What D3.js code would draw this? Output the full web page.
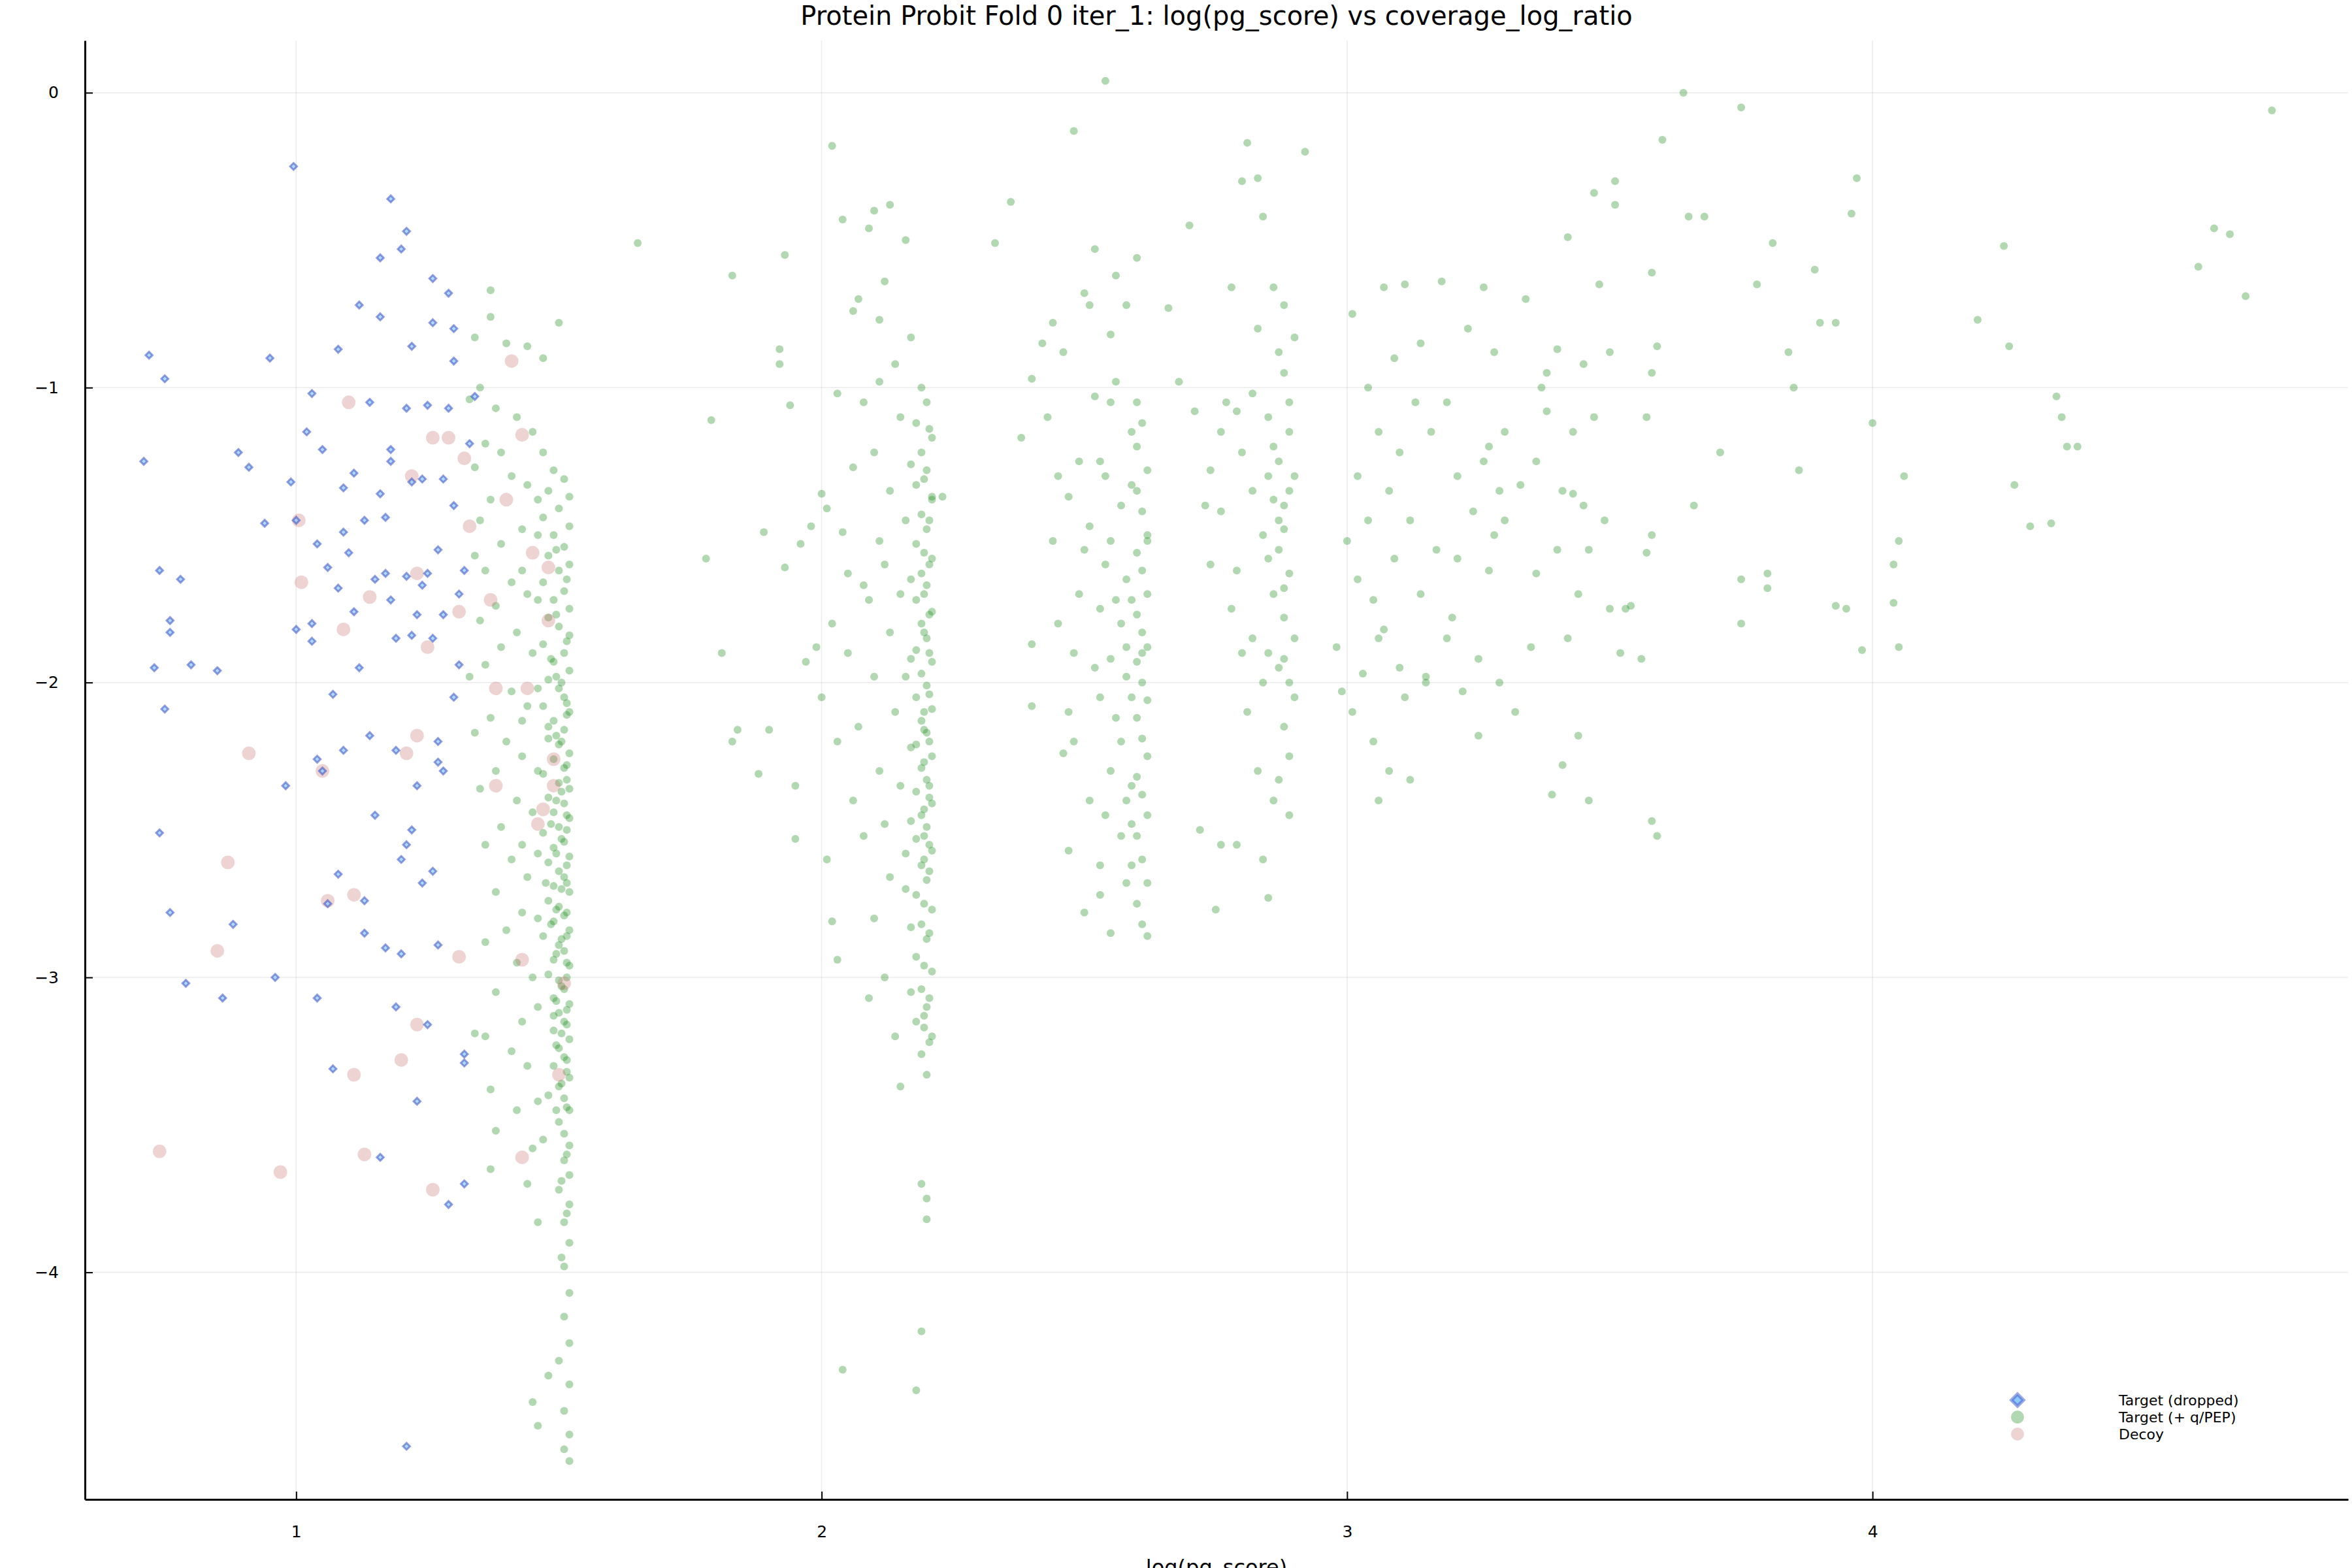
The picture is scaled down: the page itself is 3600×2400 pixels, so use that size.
<!DOCTYPE html>
<html>
<head>
<meta charset="utf-8">
<script src="https://cdn.jsdelivr.net/npm/d3@7"></script>
<style>
  body { margin: 0; background: #fff; }
  text { font-family: "DejaVu Sans", sans-serif; }
</style>
</head>
<body>
<script>
// Target (dropped)
var dropped = [[0.72,-0.89],[0.75,-0.97],[0.71,-1.25],[0.74,-1.62],[0.76,-1.79],[0.76,-1.83],[0.78,-1.65],[0.73,-1.95],[0.75,-2.09],[0.74,-2.51],[0.76,-2.78],[0.79,-3.02],[0.80,-1.94],[0.85,-1.96],[0.86,-3.07],[0.88,-2.82],[0.89,-1.22],[0.91,-1.27],[0.94,-1.46],[0.95,-0.90],[0.96,-3.00],[0.98,-2.35],[0.99,-1.32],[1.00,-1.82],[0.995,-0.25],[1.00,-1.45],[1.02,-1.15],[1.03,-1.02],[1.03,-1.80],[1.03,-1.86],[1.04,-1.53],[1.04,-3.07],[1.04,-2.26],[1.05,-2.30],[1.05,-1.21],[1.06,-1.61],[1.06,-2.75],[1.07,-3.31],[1.07,-2.04],[1.08,-1.68],[1.08,-2.65],[1.08,-0.87],[1.09,-1.34],[1.09,-1.49],[1.09,-2.23],[1.10,-1.56],[1.11,-1.29],[1.11,-1.76],[1.12,-0.72],[1.12,-1.95],[1.13,-2.85],[1.13,-1.45],[1.13,-2.74],[1.14,-1.05],[1.14,-2.18],[1.15,-2.45],[1.15,-1.65],[1.16,-1.36],[1.16,-0.76],[1.16,-3.61],[1.16,-0.56],[1.17,-1.44],[1.17,-2.90],[1.18,-1.25],[1.18,-1.72],[1.18,-0.36],[1.18,-1.21],[1.19,-2.23],[1.19,-3.10],[1.19,-1.85],[1.20,-2.92],[1.20,-2.60],[1.20,-0.53],[1.21,-1.07],[1.21,-1.64],[1.21,-2.55],[1.21,-0.47],[1.21,-4.59],[1.22,-2.50],[1.22,-0.86],[1.22,-1.32],[1.23,-3.42],[1.23,-1.77],[1.23,-2.35],[1.24,-1.67],[1.24,-1.31],[1.24,-2.68],[1.25,-1.63],[1.25,-3.16],[1.25,-1.06],[1.26,-0.78],[1.26,-0.63],[1.26,-2.64],[1.27,-2.89],[1.27,-1.55],[1.27,-2.20],[1.27,-2.27],[1.28,-1.77],[1.28,-2.30],[1.28,-1.31],[1.29,-3.77],[1.29,-0.68],[1.29,-1.07],[1.30,-0.91],[1.30,-2.05],[1.30,-1.40],[1.31,-1.94],[1.31,-1.70],[1.32,-3.26],[1.32,-3.29],[1.32,-3.70],[1.32,-1.62],[1.33,-1.19],[1.34,-1.03],[1.30,-0.80],[1.22,-1.84],[1.17,-1.63],[1.26,-1.85]];

// Target (+ q/PEP)
var target = [
[1.34,-0.83],[1.37,-0.67],[1.37,-0.76],[1.40,-0.85],[1.44,-0.86],[1.47,-0.90],[1.50,-0.78],[1.35,-1.00],[1.33,-1.04],[1.38,-1.07],[1.42,-1.10],[1.45,-1.15],[1.36,-1.19],[1.39,-1.22],[1.34,-1.27],[1.41,-1.30],[1.44,-1.33],[1.37,-1.38],[1.35,-1.45],[1.43,-1.48],[1.39,-1.53],[1.46,-1.50],[1.34,-1.57],[1.36,-1.62],[1.41,-1.66],[1.44,-1.70],[1.38,-1.74],[1.35,-1.79],[1.42,-1.83],[1.39,-1.88],[1.45,-1.90],[1.36,-1.94],[1.33,-1.98],[1.41,-2.03],[1.44,-2.08],[1.37,-2.12],[1.34,-2.17],[1.40,-2.20],[1.43,-2.25],[1.38,-2.30],[1.35,-2.36],[1.42,-2.40],[1.45,-2.44],[1.39,-2.49],[1.36,-2.55],[1.41,-2.60],[1.44,-2.66],[1.38,-2.71],[1.43,-2.78],[1.40,-2.84],[1.36,-2.88],[1.42,-2.95],[1.45,-3.00],[1.38,-3.05],[1.34,-3.19],[1.36,-3.20],[1.41,-3.25],[1.44,-3.30],[1.37,-3.38],[1.42,-3.45],[1.38,-3.52],[1.45,-3.58],[1.37,-3.65],[1.44,-3.70],[1.46,-3.83],[1.45,-4.44],[1.46,-4.52],[1.48,-4.35],
[1.49,-1.28],[1.51,-1.31],[1.48,-1.35],[1.52,-1.37],[1.50,-1.41],[1.47,-1.44],[1.52,-1.47],[1.49,-1.50],[1.51,-1.54],[1.48,-1.57],[1.52,-1.60],[1.50,-1.62],[1.47,-1.66],[1.51,-1.69],[1.49,-1.72],[1.52,-1.75],[1.48,-1.78],[1.50,-1.81],[1.52,-1.84],[1.47,-1.87],[1.51,-1.90],[1.49,-1.93],[1.52,-1.96],[1.48,-1.99],[1.50,-2.02],[1.51,-2.05],[1.47,-2.08],[1.52,-2.10],[1.49,-2.13],[1.51,-2.16],[1.48,-2.19],[1.50,-2.21],[1.52,-2.24],[1.49,-2.26],[1.51,-2.29],[1.47,-2.31],[1.50,-2.34],[1.52,-2.36],[1.48,-2.39],[1.51,-2.41],[1.49,-2.44],[1.52,-2.46],[1.50,-2.49],[1.47,-2.51],[1.51,-2.54],[1.49,-2.56],[1.52,-2.59],[1.48,-2.61],[1.50,-2.64],[1.51,-2.66],[1.49,-2.69],[1.52,-2.71],[1.48,-2.74],[1.50,-2.76],[1.51,-2.79],[1.49,-2.81],[1.52,-2.84],[1.47,-2.86],[1.50,-2.89],[1.51,-2.91],[1.49,-2.94],[1.52,-2.96],[1.48,-2.99],[1.50,-3.01],[1.51,-3.04],[1.49,-3.07],[1.52,-3.09],[1.50,-3.12],[1.51,-3.15],[1.49,-3.18],[1.52,-3.21],[1.50,-3.24],[1.51,-3.27],[1.49,-3.30],[1.52,-3.34],[1.50,-3.37],[1.51,-3.41],[1.52,-3.45],[1.50,-3.49],[1.51,-3.53],[1.52,-3.57],[1.51,-3.62],[1.52,-3.67],[1.50,-3.72],[1.52,-3.77],[1.51,-3.83],[1.52,-3.90],[1.51,-3.98],[1.52,-4.07],[1.51,-4.15],[1.52,-4.24],[1.50,-4.30],[1.52,-4.38],[1.51,-4.47],[1.52,-4.55],[1.51,-4.60],[1.52,-4.64],
[1.505,-2.00],[1.515,-2.11],[1.505,-2.20],[1.515,-2.28],[1.505,-2.37],[1.515,-2.45],[1.505,-2.53],[1.515,-2.62],[1.505,-2.70],[1.515,-2.78],[1.505,-2.87],[1.515,-2.95],[1.505,-3.03],[1.515,-3.11],[1.505,-3.19],[1.515,-3.28],[1.505,-3.36],[1.515,-3.44],[1.48,-2.15],[1.485,-2.48],[1.485,-2.82],[1.49,-3.13],[1.485,-1.92],[1.475,-2.68],[1.48,-3.40],
[1.495,-1.55],[1.515,-1.65],[1.495,-1.77],[1.515,-1.86],[1.495,-1.98],[1.515,-2.07],[1.495,-2.18],[1.515,-2.33],[1.495,-2.40],[1.515,-2.50],[1.495,-2.58],[1.515,-2.68],[1.495,-2.77],[1.515,-2.86],[1.495,-2.92],[1.515,-3.00],[1.495,-3.08],[1.515,-3.16],[1.495,-3.23],[1.515,-3.32],[1.495,-3.45],[1.515,-3.60],[1.505,-3.69],[1.515,-3.80],[1.505,-3.95],
[1.46,-1.38],[1.46,-1.72],[1.46,-2.02],[1.46,-2.30],[1.46,-2.58],[1.46,-2.80],[1.46,-3.10],[1.46,-3.42],[1.47,-1.22],[1.47,-3.55],[1.43,-1.62],[1.43,-2.13],[1.43,-2.55],[1.43,-3.15],
[1.65,-0.51],[1.79,-1.11],[1.78,-1.58],[1.81,-1.90],[1.83,-2.20],[1.84,-2.16],[1.83,-0.62],[1.88,-2.31],[1.89,-1.49],[1.90,-2.16],[1.92,-0.87],[1.92,-0.92],[1.93,-0.55],[1.93,-1.61],[1.94,-1.06],[1.95,-2.35],[1.95,-2.53],[1.96,-1.53],[1.97,-1.93],[1.98,-1.47],[1.99,-1.88],[2.00,-2.05],[2.00,-1.36],[2.01,-1.41],[2.01,-2.60],[2.02,-1.80],[2.02,-2.81],[2.03,-1.02],[2.03,-2.20],[2.03,-2.94],[2.04,-4.33],[2.04,-1.49],[2.05,-1.63],[2.05,-1.90],[2.06,-0.74],[2.06,-2.40],[2.06,-1.27],[2.07,-0.70],[2.07,-2.15],[2.08,-1.67],[2.08,-1.05],[2.08,-2.52],[2.09,-0.46],[2.09,-1.72],[2.09,-3.07],[2.10,-0.40],[2.10,-1.22],[2.10,-1.98],[2.10,-2.80],[2.11,-0.77],[2.11,-1.52],[2.11,-2.30],[2.11,-0.98],[2.12,-1.60],[2.12,-2.48],[2.12,-3.00],[2.12,-0.64],[2.13,-1.35],[2.13,-1.83],[2.13,-2.66],[2.13,-0.38],[2.14,-0.92],[2.14,-2.10],[2.14,-3.20],[2.15,-1.10],[2.15,-1.70],[2.15,-2.35],[2.15,-3.37],[2.16,-1.45],[2.16,-2.58],[2.16,-0.50],[2.17,-1.92],[2.17,-2.83],[2.17,-0.83],[2.02,-0.18],[2.04,-0.43],[2.21,-1.37],[2.23,-1.37],
[2.19,-1.00],[2.20,-1.05],[2.18,-1.12],[2.21,-1.17],[2.19,-1.22],[2.20,-1.28],[2.18,-1.33],[2.21,-1.38],[2.19,-1.43],[2.20,-1.48],[2.18,-1.53],[2.21,-1.58],[2.19,-1.63],[2.20,-1.67],[2.18,-1.72],[2.21,-1.76],[2.19,-1.80],[2.20,-1.85],[2.18,-1.89],[2.21,-1.93],[2.19,-1.97],[2.20,-2.01],[2.18,-2.05],[2.21,-2.09],[2.19,-2.13],[2.20,-2.17],[2.18,-2.21],[2.21,-2.25],[2.19,-2.29],[2.20,-2.33],[2.18,-2.37],[2.21,-2.41],[2.19,-2.45],[2.20,-2.49],[2.18,-2.53],[2.21,-2.57],[2.19,-2.62],[2.20,-2.67],[2.18,-2.72],[2.21,-2.77],[2.19,-2.82],[2.20,-2.87],[2.18,-2.93],[2.21,-2.98],[2.19,-3.04],[2.20,-3.10],[2.18,-3.15],[2.21,-3.20],[2.19,-3.26],[2.20,-3.33],[2.19,-3.70],[2.20,-3.75],[2.20,-3.82],[2.19,-4.20],[2.18,-4.40],[2.195,-1.70],[2.205,-1.90],[2.195,-2.10],[2.205,-2.20],[2.195,-2.27],[2.205,-2.35],[2.195,-2.52],[2.205,-2.55],[2.195,-2.60],[2.205,-1.60],[2.195,-3.17],
[2.205,-1.14],[2.195,-1.31],[2.205,-1.45],[2.195,-1.56],[2.205,-1.77],[2.195,-1.83],[2.205,-2.04],[2.195,-2.16],[2.205,-2.39],[2.195,-2.43],[2.205,-2.64],[2.195,-2.75],[2.205,-2.85],[2.195,-2.96],[2.205,-3.07],[2.195,-3.13],[2.205,-3.22],[2.17,-1.26],[2.17,-1.65],[2.17,-2.22],[2.17,-2.47],[2.17,-3.05],[2.16,-1.98],[2.16,-2.70],
[2.33,-0.51],[2.36,-0.37],[2.38,-1.17],[2.40,-1.87],[2.40,-2.08],[2.42,-0.85],[2.44,-0.78],[2.44,-1.52],[2.45,-1.80],[2.46,-0.88],[2.46,-2.24],[2.47,-1.37],[2.47,-2.57],[2.48,-0.13],[2.48,-2.20],[2.49,-1.25],[2.49,-1.70],[2.50,-0.68],[2.50,-2.78],[2.51,-0.72],[2.51,-1.47],[2.51,-2.40],[2.52,-1.03],[2.52,-0.53],[2.52,-1.95],[2.53,-2.05],[2.53,-2.62],[2.54,0.04],[2.54,-1.30],[2.54,-1.60],[2.55,-0.82],[2.55,-1.05],[2.55,-2.30],[2.55,-2.85],[2.56,-1.72],[2.56,-2.12],[2.56,-0.62],[2.57,-1.40],[2.57,-2.52],[2.58,-0.72],[2.58,-1.88],[2.58,-2.68],[2.59,-1.15],
[2.60,-1.05],[2.61,-1.12],[2.60,-1.20],[2.62,-1.28],[2.60,-1.35],[2.61,-1.42],[2.62,-1.50],[2.60,-1.56],[2.61,-1.62],[2.62,-1.70],[2.60,-1.77],[2.61,-1.83],[2.62,-1.88],[2.60,-1.93],[2.61,-2.00],[2.62,-2.06],[2.60,-2.12],[2.61,-2.19],[2.62,-2.25],[2.60,-2.32],[2.61,-2.38],[2.62,-2.45],[2.60,-2.52],[2.61,-2.60],[2.62,-2.68],[2.60,-2.75],[2.61,-2.82],[2.62,-2.86],[2.60,-0.56],[2.61,-1.90],[2.62,-1.52],
[2.40,-0.97],[2.43,-1.10],[2.45,-1.30],[2.48,-1.90],[2.53,-1.25],[2.56,-0.98],[2.57,-2.20],[2.53,-2.72],[2.50,-1.55],[2.47,-2.10],[2.59,-2.48],[2.58,-1.65],
[2.59,-1.33],[2.59,-1.72],[2.59,-2.05],[2.59,-2.35],[2.59,-2.62],[2.58,-1.98],[2.58,-2.40],[2.57,-1.80],[2.55,-1.52],[2.55,-1.92],[2.54,-2.45],[2.53,-1.75],
[2.66,-0.73],[2.68,-0.98],[2.70,-0.45],[2.71,-1.08],[2.72,-2.50],[2.73,-1.40],[2.74,-1.60],[2.75,-2.77],[2.76,-2.55],[2.76,-1.15],[2.77,-1.05],[2.78,-1.75],[2.78,-0.66],[2.79,-1.62],[2.79,-2.55],[2.80,-0.30],[2.80,-1.22],[2.81,-0.17],[2.81,-2.10],[2.82,-1.35],[2.82,-1.85],[2.83,-0.29],[2.83,-0.80],[2.83,-2.30],[2.84,-0.42],[2.84,-1.50],[2.84,-2.00],[2.85,-1.10],[2.85,-1.30],[2.85,-2.73],[2.86,-0.66],[2.86,-1.70],[2.86,-2.40],[2.87,-0.88],[2.87,-1.25],[2.87,-1.55],[2.87,-1.95],[2.88,-0.72],[2.88,-1.40],[2.88,-2.15],[2.89,-1.05],[2.89,-1.63],[2.89,-2.45],[2.90,-0.83],[2.90,-1.30],[2.90,-1.85],[2.90,-2.05],[2.92,-0.20],[2.84,-2.60],[2.86,-1.20],[2.88,-1.78],[2.89,-2.25],[2.85,-1.58],[2.82,-1.02],[2.80,-1.90],[2.87,-2.33],[2.76,-1.42],[2.74,-1.28],[2.79,-1.08],
[2.88,-1.48],[2.89,-1.35],[2.88,-1.92],[2.89,-2.00],[2.88,-1.68],[2.87,-1.45],[2.86,-1.38],[2.85,-1.90],[2.89,-1.15],[2.88,-0.95],
[2.98,-1.88],[2.99,-2.03],[3.00,-1.52],[3.01,-0.75],[3.01,-2.10],[3.02,-1.30],[3.02,-1.65],[3.03,-1.97],[3.04,-1.00],[3.04,-1.45],[3.05,-1.72],[3.05,-2.20],[3.06,-1.15],[3.06,-2.40],[3.07,-0.66],[3.07,-1.82],[3.08,-1.35],[3.08,-2.30],[3.09,-0.90],[3.09,-1.58],[3.10,-1.22],[3.10,-1.95],[3.11,-0.65],[3.11,-2.05],[3.12,-1.45],[3.12,-2.33],[3.13,-1.05],[3.14,-1.70],[3.15,-1.98],[3.16,-1.15],[3.17,-1.55],[3.18,-0.64],[3.19,-1.05],[3.20,-1.78],[3.21,-1.30],[3.22,-2.03],[3.23,-0.80],[3.24,-1.42],[3.25,-1.92],[3.26,-1.25],[3.26,-0.66],[3.27,-1.62],[3.28,-0.88],[3.28,-1.50],[3.29,-2.00],[3.30,-1.15],[3.25,-2.18],[3.21,-1.58],[3.15,-2.00],[3.14,-0.85],[3.06,-1.85],[3.19,-1.85],[3.29,-1.35],[3.27,-1.20],
[3.32,-2.10],[3.34,-0.70],[3.35,-1.88],[3.36,-1.25],[3.37,-1.00],[3.38,-0.95],[3.39,-2.38],[3.40,-1.55],[3.40,-0.87],[3.41,-1.35],[3.41,-2.28],[3.42,-0.49],[3.42,-1.85],[3.43,-1.15],[3.44,-1.70],[3.44,-2.18],[3.45,-1.40],[3.45,-0.92],[3.46,-1.55],[3.46,-2.40],[3.47,-0.34],[3.48,-0.65],[3.50,-0.88],[3.51,-0.30],[3.51,-0.38],[3.52,-1.90],[3.53,-1.75],[3.54,-1.74],[3.56,-1.92],[3.57,-1.10],[3.58,-0.95],[3.58,-0.61],[3.58,-1.50],[3.58,-2.47],[3.59,-2.52],[3.59,-0.86],[3.60,-0.16],[3.64,0.00],[3.65,-0.42],[3.66,-1.40],[3.68,-0.42],[3.71,-1.22],[3.75,-0.05],[3.75,-1.65],[3.75,-1.80],[3.78,-0.65],[3.80,-1.68],[3.80,-1.63],[3.81,-0.51],[3.84,-0.88],[3.85,-1.00],[3.86,-1.28],[3.89,-0.60],[3.90,-0.78],[3.93,-0.78],[3.93,-1.74],[3.95,-1.75],[3.96,-0.41],[3.97,-0.29],[3.98,-1.89],[4.00,-1.12],[4.04,-1.60],[4.04,-1.73],[4.05,-1.52],[4.05,-1.88],[4.06,-1.30],[4.20,-0.77],[4.25,-0.52],[4.26,-0.86],[4.27,-1.33],[4.30,-1.47],[4.34,-1.46],[4.35,-1.03],[4.36,-1.10],[4.37,-1.20],[4.39,-1.20],[4.62,-0.59],[4.65,-0.46],[4.68,-0.48],[4.71,-0.69],[4.76,-0.06],
[3.30,-1.45],[3.33,-1.33],[3.36,-1.63],[3.38,-1.08],[3.43,-1.36],[3.47,-1.10],[3.49,-1.45],[3.50,-1.75],[3.57,-1.56]
];

// Decoy
var decoy = [[0.74,-3.59],[0.85,-2.91],[0.87,-2.61],[0.91,-2.24],[0.97,-3.66],[1.005,-1.45],[1.01,-1.66],[1.05,-2.30],[1.06,-2.74],[1.09,-1.82],[1.10,-1.05],[1.11,-2.72],[1.11,-3.33],[1.13,-3.60],[1.14,-1.71],[1.20,-3.28],[1.21,-2.24],[1.22,-1.30],[1.23,-2.18],[1.23,-1.63],[1.23,-3.16],[1.25,-1.88],[1.26,-3.72],[1.26,-1.17],[1.29,-1.17],[1.31,-2.93],[1.31,-1.76],[1.32,-1.24],[1.33,-1.47],[1.37,-1.72],[1.38,-2.35],[1.38,-2.02],[1.40,-1.38],[1.41,-0.91],[1.43,-1.16],[1.43,-3.61],[1.43,-2.94],[1.44,-2.02],[1.45,-1.56],[1.46,-2.48],[1.47,-2.43],[1.48,-1.79],[1.48,-1.61],[1.49,-2.26],[1.49,-2.35],[1.50,-3.33],[1.51,-3.02]];

var xTicks = [1, 2, 3, 4];
var yTicks = [0, -1, -2, -3, -4];
var legendLabels = ["Target (dropped)", "Target (+ q/PEP)", "Decoy"];

var W = 3600, H = 2400;
var mLeft = 130, mRight = 3594, mTop = 62, mBottom = 2295;

var svg = d3.select("body").append("svg")
    .attr("width", W).attr("height", H);

var x = d3.scaleLinear().domain([0.598, 4.905]).range([mLeft, mRight]);
var y = d3.scaleLinear().domain([-4.77, 0.177]).range([mBottom, mTop]);

// grid
svg.append("g").selectAll("line").data(xTicks).enter().append("line")
    .attr("x1", d => x(d)).attr("x2", d => x(d))
    .attr("y1", mTop).attr("y2", mBottom)
    .attr("stroke", "#000").attr("stroke-opacity", 0.08).attr("stroke-width", 1.5);
svg.append("g").selectAll("line").data(yTicks).enter().append("line")
    .attr("x1", mLeft).attr("x2", mRight)
    .attr("y1", d => y(d)).attr("y2", d => y(d))
    .attr("stroke", "#000").attr("stroke-opacity", 0.08).attr("stroke-width", 1.5);

var fmt = d => d < 0 ? "\u2212" + Math.abs(d) : String(d);

var xAxis = svg.append("g").attr("transform", "translate(0," + mBottom + ")")
    .call(d3.axisBottom(x).tickValues(xTicks).tickFormat(fmt).tickSizeInner(-12).tickSizeOuter(0).tickPadding(40));
var yAxis = svg.append("g").attr("transform", "translate(" + mLeft + ",0)")
    .call(d3.axisLeft(y).tickValues(yTicks).tickFormat(fmt).tickSizeInner(-12).tickSizeOuter(0).tickPadding(40));
[xAxis, yAxis].forEach(function(a) {
    a.select(".domain").attr("stroke", "#000").attr("stroke-width", 3);
    a.selectAll(".tick line").attr("stroke", "#000").attr("stroke-width", 2);
    a.selectAll(".tick text").attr("font-size", 25).attr("font-family", "DejaVu Sans").attr("fill", "#000");
});

// points
svg.append("g").selectAll("circle").data(target).enter().append("circle")
    .attr("cx", d => x(d[0])).attr("cy", d => y(d[1])).attr("r", 6)
    .attr("fill", "#1f8f1f").attr("fill-opacity", 0.35);

svg.append("g").selectAll("circle").data(decoy).enter().append("circle")
    .attr("cx", d => x(d[0])).attr("cy", d => y(d[1])).attr("r", 10.5)
    .attr("fill", "#c86e6e").attr("fill-opacity", 0.3);

var diamond = d3.symbol().type(d3.symbolDiamond2).size(70);
svg.append("g").selectAll("path").data(dropped).enter().append("path")
    .attr("d", diamond)
    .attr("transform", d => "translate(" + x(d[0]) + "," + y(d[1]) + ")")
    .attr("fill", "#8ec8ff").attr("fill-opacity", 0.7)
    .attr("stroke", "#2a3fc0").attr("stroke-opacity", 0.5).attr("stroke-width", 3);

// title and label
svg.append("text").attr("x", (mLeft + mRight) / 2).attr("y", 38)
    .attr("text-anchor", "middle").attr("font-size", 40).text("Protein Probit Fold 0 iter_1: log(pg_score) vs coverage_log_ratio");
svg.append("text").attr("x", (mLeft + mRight) / 2).attr("y", 2410)
    .attr("text-anchor", "middle").attr("font-size", 32).text("log(pg_score)");

// legend
var lg = svg.append("g").attr("transform", "translate(3088,2143)");
var rows = lg.selectAll("g").data(legendLabels).enter().append("g")
    .attr("transform", (d, i) => "translate(0," + i * 26 + ")");
rows.append("text").attr("x", 155).attr("y", 8).attr("font-size", 22).text(d => d);
rows.filter((d, i) => i === 0).append("path")
    .attr("d", d3.symbol().type(d3.symbolDiamond2).size(220))
    .attr("fill", "#8ec8ff").attr("stroke", "#2a3fc0").attr("stroke-opacity", 0.45).attr("stroke-width", 5);
rows.filter((d, i) => i === 1).append("circle").attr("r", 10)
    .attr("fill", "#1f8f1f").attr("fill-opacity", 0.35);
rows.filter((d, i) => i === 2).append("circle").attr("r", 10)
    .attr("fill", "#c86e6e").attr("fill-opacity", 0.3);
</script>
</body>
</html>
